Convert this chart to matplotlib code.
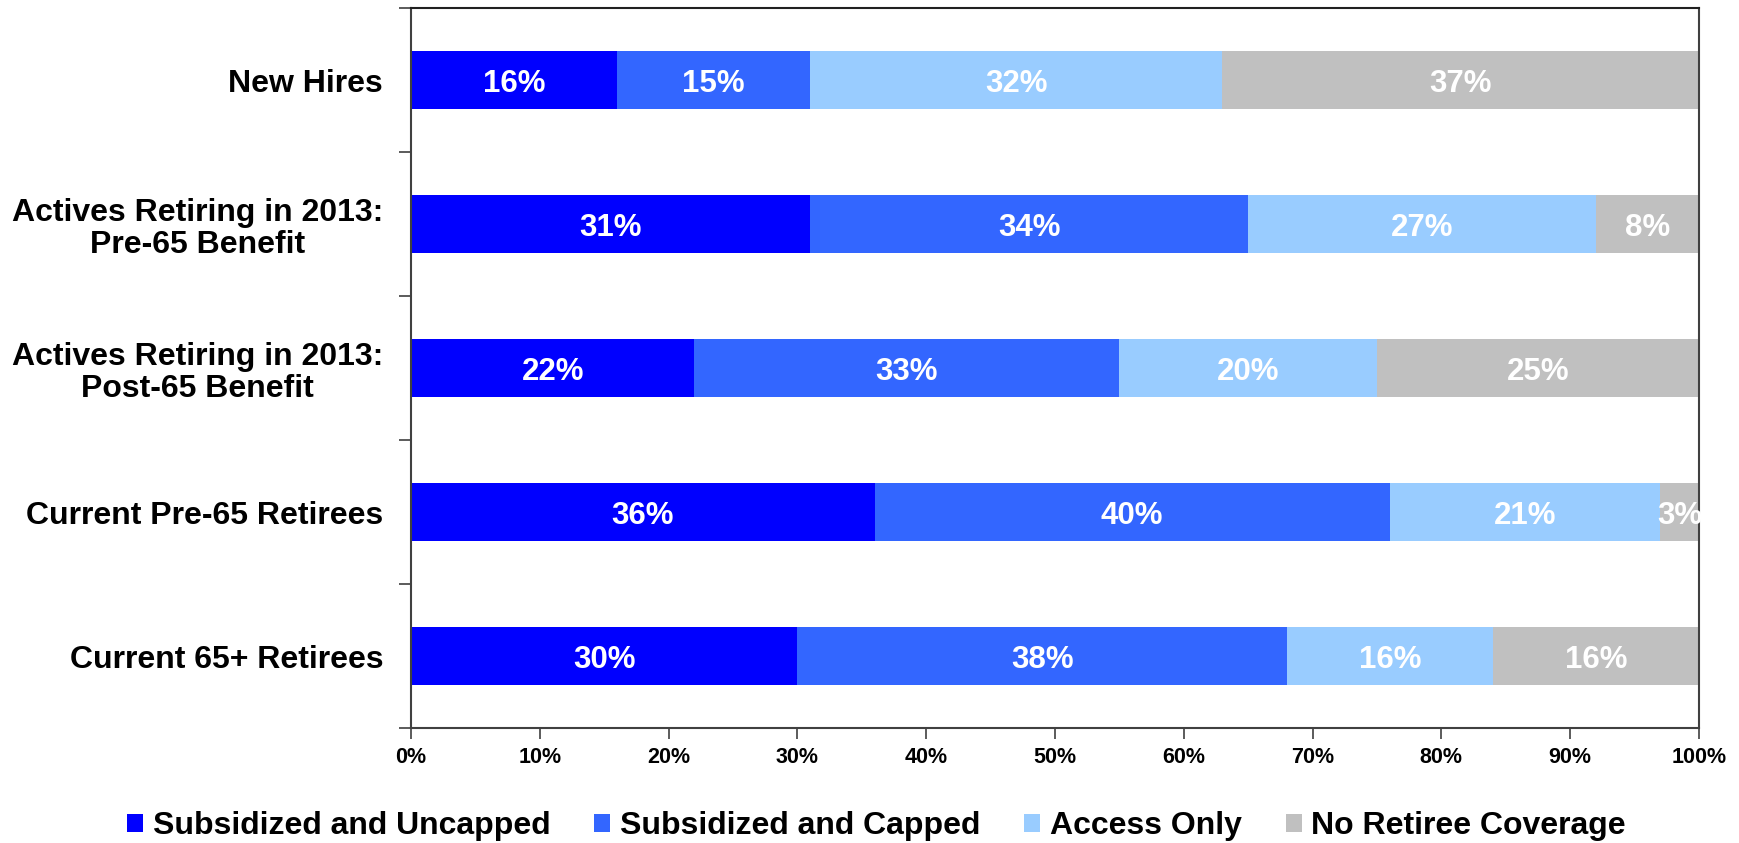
import numpy as np
import matplotlib.pyplot as plt
from matplotlib.patches import Patch

# survey shares by employee group (percent)
groups = ['New Hires',
          'Actives Retiring in 2013:\nPre-65 Benefit',
          'Actives Retiring in 2013:\nPost-65 Benefit',
          'Current Pre-65 Retirees',
          'Current 65+ Retirees']
uncapped = [16, 31, 22, 36, 30]
capped = [15, 34, 33, 40, 38]
access_only = [32, 27, 20, 21, 16]
no_coverage = [37, 8, 25, 3, 16]

series = ['Subsidized and Uncapped', 'Subsidized and Capped',
          'Access Only', 'No Retiree Coverage']
colors = ['#0000FF', '#3366FF', '#99CCFF', '#C0C0C0']
xticks = [0, 10, 20, 30, 40, 50, 60, 70, 80, 90, 100]

plt.rcParams['font.family'] = ['Liberation Sans', 'DejaVu Sans']

fig = plt.figure(figsize=(17.4, 8.43), dpi=100)
ax = fig.add_axes([0.2362, 0.1364, 0.7402, 0.8541])

y = np.arange(len(groups))
left = np.zeros(len(groups))
for vals, name, col in zip([uncapped, capped, access_only, no_coverage], series, colors):
    vals = np.array(vals, dtype=float)
    ax.barh(y, vals, left=left, height=0.4, color=col, label=name)
    for yi, l, v in zip(y, left, vals):
        ax.text(l + v / 2, yi, f'{int(v)}%', ha='center', va='center_baseline',
                color='white', fontsize=22.5, fontweight='bold')
    left += vals

ax.set_xlim(0, 100)
ax.set_ylim(len(groups) - 0.5, -0.5)
ax.set_xticks(xticks)
ax.set_xticklabels([f'{t}%' for t in xticks], fontsize=15.5, fontweight='bold')
ax.set_yticks(y)
ax.set_yticklabels(groups, fontsize=23, fontweight='bold', ha='right',
                   multialignment='center', linespacing=1.1)
ax.set_yticks(np.arange(-0.5, len(groups)), minor=True)
ax.tick_params(axis='y', which='major', length=0, pad=20)
ax.tick_params(axis='y', which='minor', length=9, width=1.2, color='#404040')
ax.tick_params(axis='x', length=8, width=1.2, color='#404040', pad=6)
for s in ax.spines.values():
    s.set_linewidth(1.5)
    s.set_color('#404040')
ax.spines['top'].set_color('#202020')

handles = [Patch(facecolor=c, edgecolor='none') for c in colors]
fig.legend(handles, series, loc='center', bbox_to_anchor=(0.5037, 0.02),
           ncol=4, frameon=False, handlelength=0.5, handleheight=0.5,
           handletextpad=0.3, columnspacing=1.38, borderpad=0,
           prop={'size': 23, 'weight': 'bold'})

fig.savefig('out.png', dpi=100)
